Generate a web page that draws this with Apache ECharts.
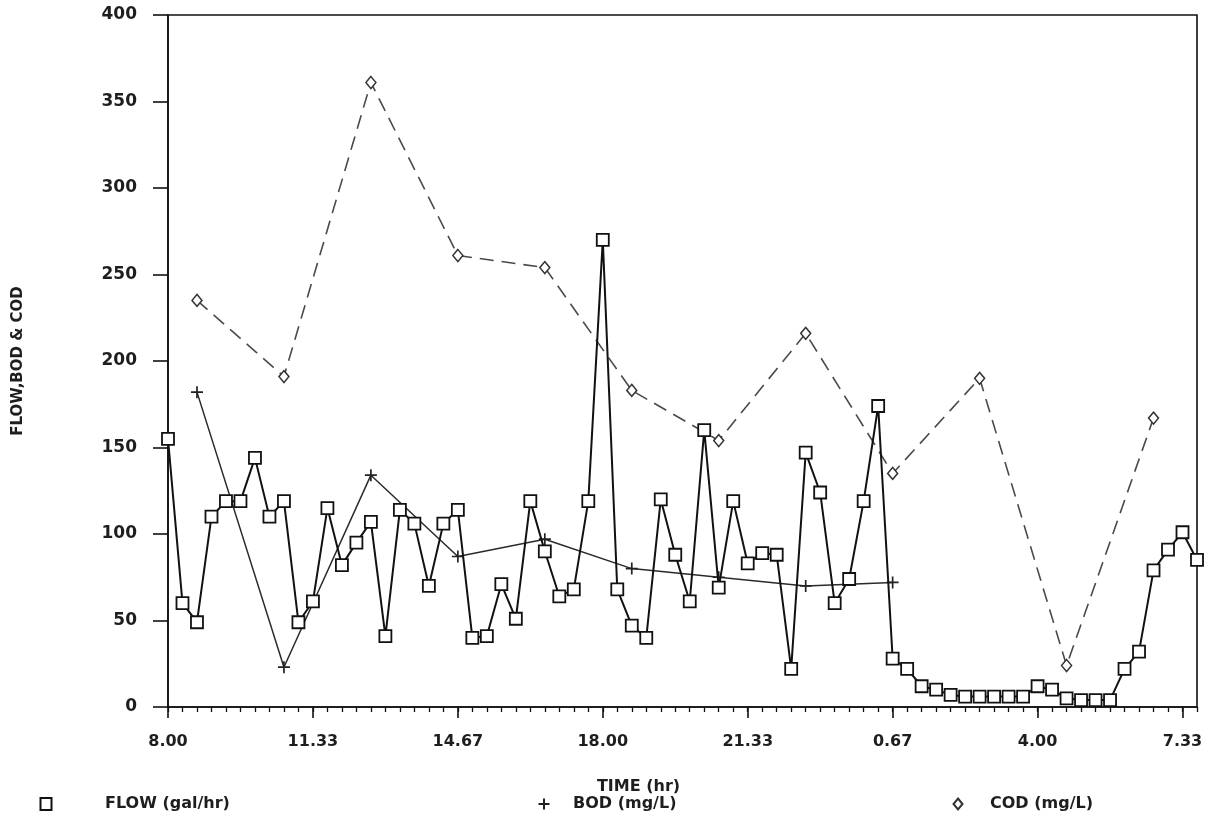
<!DOCTYPE html>
<html>
<head>
<meta charset="utf-8">
<script src="https://cdn.jsdelivr.net/npm/echarts@6/dist/echarts.min.js"></script>
<style>html,body{margin:0;padding:0;background:#fff}#c{width:1224px;height:822px}</style>
</head>
<body>
<div id="c"></div>
<script>
// x positions are 20-minute steps from 8.00
const flowValues = [155,60,49,110,119,119,144,110,119,49,61,115,82,95,107,41,114,106,70,106,
  114,40,41,71,51,119,90,64,68,119,270,68,47,40,120,88,61,160,69,119,
  83,89,88,22,147,124,60,74,119,174,28,22,12,10,7,6,6,6,6,6,
  12,10,5,4,4,4,22,32,79,91,101,85];
const bodSteps = [2,8,14,20,26,32,38,44,50];
const bodValues = [182,23,134,87,97,80,75,70,72];
const codSteps = [2,8,14,20,26,32,38,44,50,56,62,68];
const codValues = [235,191,361,261,254,183,154,216,135,190,24,167];
const tickSteps = [0,10,20,30,40,50,60,70];
const tickLabels = ['8.00','11.33','14.67','18.00','21.33','0.67','4.00','7.33'];

const FONT = 'DejaVu Sans';
const INK = '#1e1e1e';
const plusPath = 'path://M5,0L5,10M0,5L10,5';

const flowData = flowValues.map((v, i) => [i, v]);
const bodData = bodSteps.map((s, i) => [s, bodValues[i]]);
const codData = codSteps.map((s, i) => [s, codValues[i]]);
const labelMap = {};
tickSteps.forEach((s, i) => { labelMap[s] = tickLabels[i]; });

const chart = echarts.init(document.getElementById('c'), null, {renderer: 'canvas'});
function iconLegend(name, icon, cx, w, h) {
  return {show: true, data: [{name: name, icon: icon}], left: cx - w / 2, top: 803 - h / 2,
    padding: 0, itemWidth: w, itemHeight: h, selectedMode: false, formatter: () => '',
    textStyle: {fontSize: 1}};
}
function textLegend(name, left) {
  return {show: true, data: [{name: name, icon: 'none'}], left: left, top: 796,
    padding: 0, itemWidth: 0, itemHeight: 0, selectedMode: false,
    textStyle: {fontFamily: FONT, fontSize: 16, fontWeight: 'bold', color: INK}};
}
chart.setOption({
  animation: false,
  backgroundColor: '#fff',
  grid: {left: 168, right: 27, top: 15, bottom: 115, show: true,
    borderColor: '#111', borderWidth: 1.6, backgroundColor: 'transparent'},
  legend: [
    iconLegend('FLOW (gal/hr)', 'rect', 45, 11, 12),
    textLegend('FLOW (gal/hr)', 100),
    iconLegend('BOD (mg/L)', plusPath, 543, 11, 11),
    textLegend('BOD (mg/L)', 568),
    iconLegend('COD (mg/L)', 'diamond', 957, 9, 11),
    textLegend('COD (mg/L)', 985)
  ],
  xAxis: [{
    type: 'value', min: 0, max: 71, interval: 10,
    name: 'TIME (hr)', nameLocation: 'middle', nameGap: 72,
    nameTextStyle: {fontFamily: FONT, fontSize: 16, fontWeight: 'bold', color: INK, padding: [0, 88, 0, 0]},
    axisLine: {show: true, lineStyle: {color: '#111', width: 1.6}},
    axisTick: {show: true, length: 11, inside: false, customValues: tickSteps,
      lineStyle: {color: '#111', width: 1.6}},
    axisLabel: {show: true, margin: 27, customValues: tickSteps,
      formatter: v => labelMap[v] !== undefined ? labelMap[v] : '',
      fontFamily: FONT, fontSize: 16, fontWeight: 'bold', color: INK},
    splitLine: {show: false}
  }, {
    type: 'value', min: 0, max: 71, interval: 1, position: 'bottom',
    axisLine: {show: false},
    axisTick: {show: true, length: 5, lineStyle: {color: '#111', width: 1.3}},
    axisLabel: {show: false},
    splitLine: {show: false}
  }],
  yAxis: {
    type: 'value', min: 0, max: 400, interval: 50,
    name: 'FLOW,BOD & COD', nameLocation: 'middle', nameGap: 142, nameRotate: 90,
    nameTextStyle: {fontFamily: FONT, fontSize: 15, fontWeight: 'bold', color: INK},
    axisLine: {show: true, lineStyle: {color: '#111', width: 1.6}},
    axisTick: {show: true, length: 15, lineStyle: {color: '#111', width: 1.6}},
    axisLabel: {margin: 31, fontFamily: FONT, fontSize: 17, fontWeight: 'bold', color: INK},
    splitLine: {show: false}
  },
  series: [{
    name: 'FLOW (gal/hr)', type: 'line', xAxisIndex: 0, data: flowData,
    symbol: 'rect', symbolSize: [12, 12], showAllSymbol: true,
    lineStyle: {color: '#111', width: 2},
    itemStyle: {color: '#fff', borderColor: '#111', borderWidth: 1.8},
    z: 3
  }, {
    name: 'BOD (mg/L)', type: 'line', xAxisIndex: 0, data: bodData,
    symbol: plusPath, symbolSize: [12, 12], showAllSymbol: true,
    lineStyle: {color: '#2a2a2a', width: 1.5},
    itemStyle: {color: '#fff', borderColor: '#222', borderWidth: 1.7},
    z: 2
  }, {
    name: 'COD (mg/L)', type: 'line', xAxisIndex: 0, data: codData,
    symbol: 'diamond', symbolSize: [10, 12], showAllSymbol: true,
    lineStyle: {color: '#4a4a4a', width: 1.6, type: [14, 8]},
    itemStyle: {color: '#fff', borderColor: '#333', borderWidth: 1.5},
    z: 2
  }]
});
</script>
</body>
</html>
